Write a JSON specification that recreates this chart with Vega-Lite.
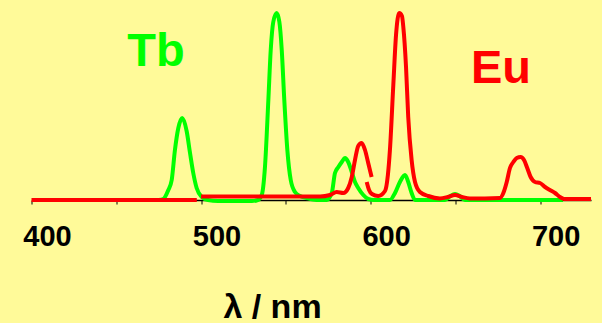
{
  "$schema": "https://vega.github.io/schema/vega-lite/v6.json",
  "autosize": {"type": "none"},
  "padding": {"left": 31.5, "top": 0, "right": 11, "bottom": 123},
  "width": 559.5,
  "height": 200,
  "background": "#FFFA99",
  "config": {"view": {"stroke": null}, "font": "Liberation Sans"},
  "layer": [
    {
      "data": {"values": [
        {"nm": 475, "v": 0}, {"nm": 477.7, "v": 1}, {"nm": 480.7, "v": 10}, {"nm": 482.7, "v": 20},
        {"nm": 484.6, "v": 50}, {"nm": 486.6, "v": 72}, {"nm": 488.9, "v": 82}, {"nm": 491.5, "v": 69},
        {"nm": 493.5, "v": 47}, {"nm": 495.4, "v": 27}, {"nm": 497.4, "v": 12}, {"nm": 500.4, "v": 3},
        {"nm": 504.1, "v": 0}, {"nm": 510, "v": -1}, {"nm": 520, "v": -1}, {"nm": 530, "v": -1},
        {"nm": 533.5, "v": 0}, {"nm": 535.8, "v": 5}, {"nm": 537.7, "v": 33}, {"nm": 539.7, "v": 100},
        {"nm": 541.1, "v": 150}, {"nm": 542.6, "v": 178}, {"nm": 544.6, "v": 187}, {"nm": 546.2, "v": 178},
        {"nm": 547.6, "v": 150}, {"nm": 549.1, "v": 100}, {"nm": 550.9, "v": 50}, {"nm": 552.9, "v": 20},
        {"nm": 555.4, "v": 8}, {"nm": 558.4, "v": 4}, {"nm": 562.3, "v": 2}, {"nm": 566, "v": 0.5},
        {"nm": 570.2, "v": 0}, {"nm": 574, "v": 0}, {"nm": 577.1, "v": 7}, {"nm": 579.0, "v": 27},
        {"nm": 581.0, "v": 33}, {"nm": 583.0, "v": 38}, {"nm": 584.9, "v": 42}, {"nm": 586.8, "v": 38},
        {"nm": 588.9, "v": 28}, {"nm": 590.8, "v": 18}, {"nm": 592.7, "v": 12}, {"nm": 595.7, "v": 5},
        {"nm": 598.6, "v": 1}, {"nm": 602, "v": 0}, {"nm": 611.4, "v": 0}, {"nm": 614.4, "v": 7},
        {"nm": 617.3, "v": 18}, {"nm": 620.3, "v": 25}, {"nm": 622.2, "v": 18}, {"nm": 624.2, "v": 7},
        {"nm": 626.2, "v": 0}, {"nm": 643.9, "v": 0}, {"nm": 647, "v": 4}, {"nm": 649.8, "v": 6},
        {"nm": 652.5, "v": 4}, {"nm": 655.6, "v": 0}, {"nm": 713.5, "v": 0}
      ]},
      "mark": {"type": "line", "strokeWidth": 4, "color": "#00FF00", "interpolate": "monotone"},
      "encoding": {
        "x": {"field": "nm", "type": "quantitative",
          "scale": {"domain": [400, 730], "nice": false, "zero": false},
          "axis": {
            "values": [400, 450, 500, 550, 600, 650, 700],
            "labelExpr": "datum.value % 100 == 0 ? datum.label : ''",
            "grid": false,
            "domainColor": "#000000", "domainWidth": 1.5,
            "tickColor": "#000000", "tickWidth": 1, "tickSize": 4,
            "labelFont": "Liberation Sans", "labelFontSize": 29, "labelFontWeight": "bold",
            "labelColor": "#000000", "labelPadding": 18, "labelOffset": 15.5,
            "labelOverlap": false, "labelFlush": false, "labelBound": false,
            "title": "λ / nm", "titleFont": "Liberation Sans", "titleFontSize": 34,
            "titleFontWeight": "bold", "titleColor": "#000000", "titleAlign": "center",
            "titleX": 240.5, "titleY": 117, "titleBaseline": "alphabetic"
          }},
        "y": {"field": "v", "type": "quantitative", "scale": {"domain": [0, 200], "nice": false}, "axis": null}
      }
    },
    {
      "data": {"values": [
        {"seg": "A", "nm": 400, "v": 0}, {"seg": "A", "nm": 497.5, "v": 0},
        {"seg": "B", "nm": 500, "v": 3.5}, {"seg": "B", "nm": 540, "v": 3.5}, {"seg": "B", "nm": 570.2, "v": 3.5},
        {"seg": "B", "nm": 576.1, "v": 5}, {"seg": "B", "nm": 580, "v": 8}, {"seg": "B", "nm": 583.9, "v": 7},
        {"seg": "B", "nm": 586.8, "v": 12}, {"seg": "B", "nm": 588.9, "v": 23}, {"seg": "B", "nm": 590.8, "v": 40},
        {"seg": "B", "nm": 592.7, "v": 54}, {"seg": "B", "nm": 594.7, "v": 57}, {"seg": "B", "nm": 596.7, "v": 50},
        {"seg": "B", "nm": 598.6, "v": 37}, {"seg": "B", "nm": 600.6, "v": 23},
        {"seg": "C", "nm": 597.7, "v": 18}, {"seg": "C", "nm": 599.1, "v": 10}, {"seg": "C", "nm": 600.8, "v": 6},
        {"seg": "C", "nm": 604.5, "v": 4}, {"seg": "C", "nm": 608.5, "v": 9}, {"seg": "C", "nm": 610.2, "v": 25},
        {"seg": "C", "nm": 611.4, "v": 50}, {"seg": "C", "nm": 613.4, "v": 115}, {"seg": "C", "nm": 615.0, "v": 165},
        {"seg": "C", "nm": 616.9, "v": 187}, {"seg": "C", "nm": 618.5, "v": 184}, {"seg": "C", "nm": 619.3, "v": 173},
        {"seg": "C", "nm": 620.9, "v": 133}, {"seg": "C", "nm": 622.2, "v": 83}, {"seg": "C", "nm": 624.2, "v": 40},
        {"seg": "C", "nm": 626.2, "v": 18}, {"seg": "C", "nm": 629.1, "v": 8}, {"seg": "C", "nm": 634, "v": 4},
        {"seg": "C", "nm": 640.9, "v": 1.5}, {"seg": "C", "nm": 645.6, "v": 3}, {"seg": "C", "nm": 649.8, "v": 5},
        {"seg": "C", "nm": 653.9, "v": 3}, {"seg": "C", "nm": 658.6, "v": 1.5}, {"seg": "C", "nm": 676.3, "v": 2},
        {"seg": "C", "nm": 678.3, "v": 7}, {"seg": "C", "nm": 680.3, "v": 18}, {"seg": "C", "nm": 682.2, "v": 32},
        {"seg": "C", "nm": 684.2, "v": 38}, {"seg": "C", "nm": 686.2, "v": 42}, {"seg": "C", "nm": 688.5, "v": 43},
        {"seg": "C", "nm": 690.5, "v": 40}, {"seg": "C", "nm": 692.4, "v": 32}, {"seg": "C", "nm": 694.4, "v": 23},
        {"seg": "C", "nm": 697, "v": 18}, {"seg": "C", "nm": 699.9, "v": 17}, {"seg": "C", "nm": 702.9, "v": 13},
        {"seg": "C", "nm": 705.8, "v": 10}, {"seg": "C", "nm": 708.8, "v": 7}, {"seg": "C", "nm": 711.7, "v": 3},
        {"seg": "C", "nm": 714.1, "v": 1}, {"seg": "C", "nm": 730, "v": 1}
      ]},
      "mark": {"type": "line", "strokeWidth": 4, "color": "#FF0000", "interpolate": "monotone"},
      "encoding": {
        "x": {"field": "nm", "type": "quantitative"},
        "y": {"field": "v", "type": "quantitative"},
        "detail": {"field": "seg", "type": "nominal"}
      }
    },
    {
      "data": {"values": [
        {"label": "Tb", "series": "Tb", "nm": 473.4, "v": 134},
        {"label": "Eu", "series": "Eu", "nm": 676.9, "v": 117.3}
      ]},
      "mark": {"type": "text", "fontSize": 47, "fontWeight": "bold", "font": "Liberation Sans", "align": "center", "baseline": "alphabetic"},
      "encoding": {
        "x": {"field": "nm", "type": "quantitative"},
        "y": {"field": "v", "type": "quantitative"},
        "text": {"field": "label"},
        "color": {"field": "series", "type": "nominal", "scale": {"domain": ["Tb", "Eu"], "range": ["#00FF00", "#FF0000"]}, "legend": null}
      }
    }
  ]
}
